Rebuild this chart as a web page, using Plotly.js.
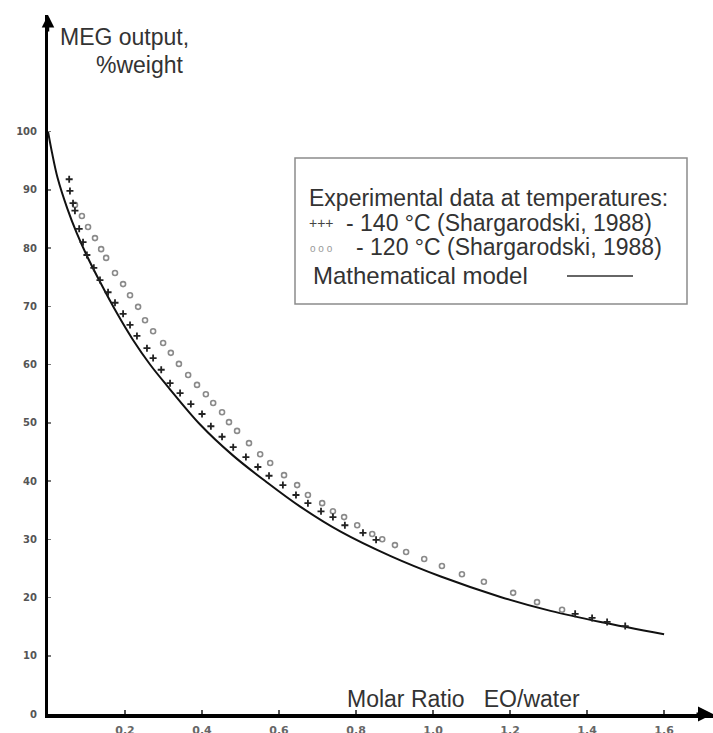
<!DOCTYPE html>
<html>
<head>
<meta charset="utf-8">
<script src="https://cdn.plot.ly/plotly-3.0.1.min.js"></script>
<style>html,body{margin:0;padding:0;background:#fff;}#chart{width:713px;height:733px;}</style>
</head>
<body>
<div id="chart"></div>
<script>
// Experimental data, 140 °C (crosses)
const exp140X = [0.055,0.057,0.065,0.070,0.081,0.091,0.101,0.119,0.135,0.156,0.174,0.195,0.213,0.231,0.257,0.273,0.294,0.317,0.343,0.371,0.400,0.423,0.452,0.481,0.514,0.545,0.574,0.610,0.644,0.675,0.709,0.740,0.771,0.818,0.852,1.369,1.413,1.452,1.499];
const exp140Y = [91.8,89.8,87.7,86.4,83.3,81.0,78.8,76.6,74.5,72.4,70.6,68.7,66.8,64.9,62.8,61.1,59.1,56.8,55.1,53.2,51.5,49.4,47.6,45.8,44.1,42.4,40.9,39.3,37.6,36.2,34.8,33.8,32.4,31.1,29.9,17.2,16.5,15.8,15.1];
// Experimental data, 120 °C (open circles)
const exp120X = [0.070,0.088,0.104,0.122,0.138,0.151,0.174,0.195,0.213,0.234,0.252,0.273,0.299,0.319,0.340,0.364,0.387,0.410,0.429,0.452,0.470,0.491,0.522,0.551,0.577,0.613,0.647,0.675,0.712,0.740,0.769,0.803,0.842,0.868,0.901,0.930,0.977,1.023,1.075,1.132,1.208,1.270,1.335];
const exp120Y = [87.4,85.5,83.6,81.7,79.8,78.3,75.7,73.8,71.9,69.9,67.6,65.7,63.7,62.0,60.1,58.2,56.5,54.9,53.4,51.8,50.1,48.6,46.5,44.6,43.1,41.0,39.3,37.6,36.2,34.8,33.8,32.4,30.9,30.0,29.0,27.8,26.6,25.4,24.0,22.7,20.8,19.2,17.9];
// Mathematical model
const modelX = [0,0.01,0.025,0.05,0.075,0.1,0.135,0.18,0.22,0.265,0.31,0.395,0.48,0.57,0.655,0.76,0.89,1.02,1.175,1.305,1.435,1.6];
const modelY = [100,96.5,92,86.8,82.5,78.8,74.2,68.7,64.3,60,56.3,49.7,44.4,39.7,35.6,31.3,27.1,23.6,20.1,17.7,15.8,13.7];
// Ticks
const xTickVals = [0.2,0.4,0.6,0.8,1.0,1.2,1.4,1.6];
const xTickText = ["0.2","0.4","0.6","0.8","1.0","1.2","1.4","1.6"];
const yTickVals = [0,10,20,30,40,50,60,70,80,90,100];
const yTickText = ["0","10","20","30","40","50","60","70","80","90","100"];

const W = 713, H = 733, L = 48, R = 0, T = 15, B = 19;
const px = v => (v - L) / (W - L - R);
const py = v => (H - B - v) / (H - T - B);
const txt = '#333';
const F = 'Liberation Sans, Arial, sans-serif';

const traces = [
  {x: modelX, y: modelY, type: 'scatter', mode: 'lines', line: {color: '#111', width: 2, shape: 'spline', smoothing: 1}, hoverinfo: 'skip'},
  {x: exp120X, y: exp120Y, type: 'scatter', mode: 'markers', marker: {symbol: 'circle-open', size: 5, color: '#8a8a8a', line: {width: 1.6, color: '#8a8a8a'}}},
  {x: exp140X, y: exp140Y, type: 'scatter', mode: 'markers', marker: {symbol: 'cross-thin-open', size: 5, color: '#222', line: {width: 1.8, color: '#222'}}}
];

const ann = [
  {xref:'paper', yref:'paper', x: px(58), y: py(37), xanchor:'left', yanchor:'middle', text:'MEG output,', showarrow:false, font:{family:F, size:23, color:txt}},
  {xref:'paper', yref:'paper', x: px(186), y: py(65), xanchor:'right', yanchor:'middle', text:'%weight', showarrow:false, font:{family:F, size:23, color:txt}},
  {xref:'paper', yref:'paper', x: px(345), y: py(699), xanchor:'left', yanchor:'middle', text:'Molar Ratio&nbsp;&nbsp; EO/water', showarrow:false, font:{family:F, size:23, color:txt}},
  {xref:'paper', yref:'paper', x: px(307), y: py(198), xanchor:'left', yanchor:'middle', text:'Experimental data at temperatures:', showarrow:false, font:{family:F, size:23, color:txt}},
  {xref:'paper', yref:'paper', x: px(307), y: py(223), xanchor:'left', yanchor:'middle', text:'+++', showarrow:false, font:{family:F, size:14, color:'#444'}},
  {xref:'paper', yref:'paper', x: px(344), y: py(223), xanchor:'left', yanchor:'middle', text:'- 140 °C (Shargarodski, 1988)', showarrow:false, font:{family:F, size:23, color:txt}},
  {xref:'paper', yref:'paper', x: px(308), y: py(248), xanchor:'left', yanchor:'middle', text:'o o o', showarrow:false, font:{family:F, size:10, color:'#999'}},
  {xref:'paper', yref:'paper', x: px(354), y: py(247), xanchor:'left', yanchor:'middle', text:'- 120 °C (Shargarodski, 1988)', showarrow:false, font:{family:F, size:23, color:txt}},
  {xref:'paper', yref:'paper', x: px(311), y: py(275), xanchor:'left', yanchor:'middle', text:'Mathematical model', showarrow:false, font:{family:F, size:24, color:txt}},
  // axis arrowheads
  {xref:'x', yref:'y', x: 0, y: 120, ax: 0, ay: 18, text:'', showarrow:true, arrowhead:2, arrowsize:1, arrowwidth:2.5, arrowcolor:'#000'},
  {xref:'x', yref:'y', x: 1.727, y: 0, ax: -18, ay: 0, text:'', showarrow:true, arrowhead:2, arrowsize:1, arrowwidth:3, arrowcolor:'#000'}
];

const shapes = [
  {type:'rect', xref:'paper', yref:'paper', x0: px(295), x1: px(687), y0: py(304), y1: py(158), line:{color:'#8c8c8c', width:1.5}, fillcolor:'rgba(0,0,0,0)'},
  {type:'line', xref:'paper', yref:'paper', x0: px(567), x1: px(633), y0: py(276), y1: py(276), line:{color:'#333', width:1.5}}
];

const layout = {
  width: W, height: H,
  margin: {l: L, r: R, t: T, b: B, pad: 0},
  paper_bgcolor: '#fff', plot_bgcolor: '#fff',
  showlegend: false,
  xaxis: {range: [0, 1.727], showgrid: false, zeroline: false, showline: true, linecolor: '#000', linewidth: 4,
          ticks: 'inside', ticklen: 4, tickwidth: 1.5, tickcolor: '#555', tickvals: xTickVals, ticktext: xTickText,
          tickfont: {family: 'DejaVu Sans, sans-serif', size: 11, color: '#666', weight: 'bold'}, ticklabelstandoff: 3, fixedrange: true},
  yaxis: {range: [0, 120], showgrid: false, zeroline: false, showline: true, linecolor: '#000', linewidth: 3,
          ticks: 'inside', ticklen: 3, tickwidth: 1.5, tickcolor: '#777', tickvals: yTickVals, ticktext: yTickText,
          tickfont: {family: 'DejaVu Sans, sans-serif', size: 10, color: '#555', weight: 'bold'}, ticklabelstandoff: 6, fixedrange: true},
  annotations: ann,
  shapes: shapes
};

Plotly.newPlot('chart', traces, layout, {staticPlot: true, displayModeBar: false});
</script>
</body>
</html>
